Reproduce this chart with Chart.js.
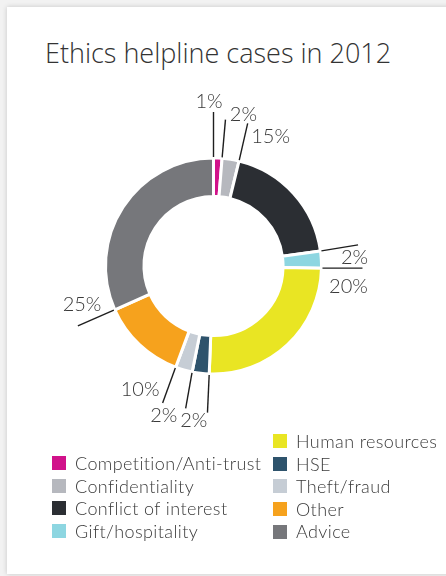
<!DOCTYPE html>
<html>
<head>
<meta charset="utf-8">
<script src="https://cdn.jsdelivr.net/npm/chart.js@4.4.0/dist/chart.umd.min.js"></script>
<style>
  html, body { margin: 0; padding: 0; }
  body { width: 446px; height: 576px; background: #f2f2f2; position: relative; overflow: hidden; font-family: Lato, "Open Sans", sans-serif; }
  #card { position: absolute; left: 7px; top: 7px; width: 470px; height: 567px; background: #fff; box-shadow: 0 0 5px rgba(0,0,0,0.18); }
  #title { position: absolute; left: 45px; top: 39px; font-family: "Open Sans", sans-serif; font-size: 27px; line-height: 27px; font-weight: 300; color: #333; white-space: nowrap; }
  #wrap { position: absolute; left: 0; top: 0; width: 446px; height: 576px; }
  .legend { position: absolute; font-size: 18px; font-weight: 300; color: #3a3a3a; letter-spacing: 0.4px; }
  .legend div { height: 22.6px; line-height: 22.6px; white-space: nowrap; display: flex; align-items: center; }
  .legend span.sw { display: inline-block; width: 14px; height: 14px; margin-right: 9px; }
</style>
</head>
<body>
<div id="card"></div>
<div id="title">Ethics helpline cases in 2012</div>
<div id="wrap"><canvas id="myChart"></canvas></div>
<div class="legend" id="legend1" style="left:52px; top:452px;"></div>
<div class="legend" id="legend2" style="left:273px; top:430px;"></div>
<script>
// values as printed on the chart (%), clockwise from 12 o'clock
var categories = ['Competition/Anti-trust', 'Confidentiality', 'Conflict of interest', 'Gift/hospitality',
                  'Human resources', 'HSE', 'Theft/fraud', 'Other', 'Advice'];
var shares = [1, 2, 15, 2, 20, 2, 2, 10, 25];
var colours = ['#d1128a', '#b6b8be', '#2b2e33', '#8dd6e1', '#e9e523', '#2e536c', '#c6cdd5', '#f6a21d', '#76777b'];

// leader line direction / length and text offset from the line end, one per slice
var leaders = [
    {dx: 0,     dy: -45,  tx: -4.5,  ty: -10},
    {dx: 3.3,   dy: -37.7, tx: 18,   ty: -5.5},
    {dx: 8.4,   dy: -36.7, tx: 23,   ty: 12.7},
    {dx: 36.6,  dy: -6,   tx: -3.5,  ty: 12.5},
    {dx: 40,    dy: 0,    tx: -14,   ty: 18.3},
    {dx: -1.7,  dy: 37.7, tx: -13.6, ty: 8},
    {dx: -6.3,  dy: 35.6, tx: -21.8, ty: 6.7},
    {dx: -12.7, dy: 35,   tx: -22.5, ty: -13.6},
    {dx: -36,   dy: 15.7, tx: 4.2,   ty: -21.8}
];

var leaderLabels = {
    id: 'leaderLabels',
    afterDraw(chart) {
        var ctx = chart.ctx;
        var arcs = chart.getDatasetMeta(0).data;
        ctx.save();
        ctx.strokeStyle = '#1e1e1e';
        ctx.lineWidth = 1.4;
        ctx.fillStyle = '#3a3a3a';
        ctx.font = '300 20px Lato';
        ctx.textAlign = 'center';
        ctx.textBaseline = 'middle';
        for (let i = 0; i < arcs.length; i++) {
            let a = arcs[i];
            let r = a.outerRadius + 1;
            let sx = a.x + r * Math.cos(a.startAngle);
            let sy = a.y + r * Math.sin(a.startAngle);
            let ex = sx + leaders[i].dx;
            let ey = sy + leaders[i].dy;
            ctx.beginPath();
            ctx.moveTo(sx, sy);
            ctx.lineTo(ex, ey);
            ctx.stroke();
            ctx.fillText(shares[i] + '%', ex + leaders[i].tx, ey + leaders[i].ty);
        }
        ctx.restore();
    }
};

let ctx = document.getElementById('myChart').getContext('2d');
let myChart = new Chart(ctx, {
    type: 'doughnut',
    data: {
        labels: categories,
        datasets: [{
            data: shares,
            backgroundColor: colours,
            borderColor: '#fff',
            borderWidth: 3,
            radius: 108,
            cutout: '64.4%'
        }]
    },
    options: {
        responsive: true,
        maintainAspectRatio: false,
        animation: false,
        layout: { padding: { left: 0, top: 0, right: 19, bottom: 44 } },
        plugins: {
            legend: { display: false },
            tooltip: { enabled: false }
        }
    },
    plugins: [leaderLabels]
});

// two column legend, second column starts one row higher
function legendItem(i) {
    return `<div><span class="sw" style="background:${colours[i]}"></span>${categories[i]}</div>`;
}
var col1 = '', col2 = '';
for (let i = 0; i < categories.length; i++) {
    if (i < 4) col1 += legendItem(i);
    else col2 += legendItem(i);
}
document.getElementById('legend1').innerHTML = col1;
document.getElementById('legend2').innerHTML = col2;
</script>
</body>
</html>
